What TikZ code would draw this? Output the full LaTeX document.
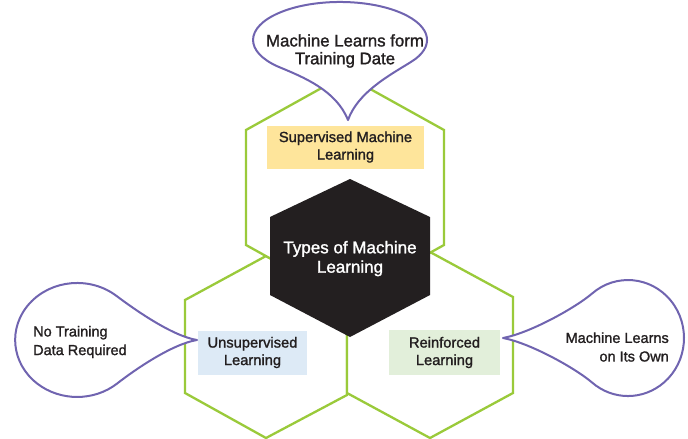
\documentclass[tikz,border=0pt]{standalone}
\usepackage{fontspec}
\setmainfont[FakeBold=1.4]{Liberation Sans}
\definecolor{hexgreen}{RGB}{154,202,58}
\definecolor{bubblepurple}{RGB}{112,100,176}
\definecolor{coredark}{RGB}{35,31,32}
\definecolor{darktext}{RGB}{35,31,32}
\definecolor{boxyellow}{RGB}{254,229,155}
\definecolor{boxblue}{RGB}{221,234,246}
\definecolor{boxgreen}{RGB}{226,239,218}
\begin{document}
\begin{tikzpicture}[x=1pt,y=-1pt,
  hexline/.style={draw=hexgreen,line width=2.3pt,line join=miter,fill=white},
  bubble/.style={draw=bubblepurple,line width=2pt,fill=white,line join=round},
  labelbox/.style={inner sep=0pt,align=center,text=darktext,
    font=\fontsize{14.7}{17.5}\selectfont},
  bubbletext/.style={inner sep=0pt,text=darktext,
    font=\fontsize{14.5}{18.6}\selectfont}]
\useasboundingbox (0,0) rectangle (688,439);

% green hexagons
\draw[hexline] (266,256) -- (185,300) -- (185,393) -- (266,438) -- (347,395) -- (347,300) -- cycle;
\draw[hexline] (430,252) -- (513,297) -- (513,393) -- (430,438) -- (347,393) -- (347,297) -- cycle;
\draw[hexline] (345,75) -- (444,130) -- (444,245) -- (345,300) -- (246,245) -- (246,130) -- cycle;

% dark core hexagon
\fill[coredark] (350,179) -- (430,217) -- (430,295) -- (350,337) -- (270,295) -- (270,217) -- cycle;
\node[inner sep=0pt,align=center,text=white,font=\fontsize{17}{19.4}\selectfont]
  (core) at (350,258.6) {Types of Machine\\Learning};

% coloured labels
\node[labelbox,fill=boxyellow,minimum width=157pt,minimum height=43pt]
  (sup) at (345.5,147) {Supervised Machine\\Learning};
\node[labelbox,fill=boxblue,minimum width=109pt,minimum height=44pt]
  (unsup) at (252.5,352.5) {Unsupervised\\Learning};
\node[labelbox,fill=boxgreen,minimum width=111pt,minimum height=45pt]
  (reinf) at (444.5,352.5) {Reinforced\\Learning};

% callouts
\draw[bubble] (348,120) .. controls (336,90) and (303,77) .. (278,66.6)
  arc[start angle=135.5,end angle=395.4,x radius=87,y radius=38]
  .. controls (390,75) and (358,92) .. (348,120) -- cycle;
\node[inner sep=0pt,align=center,text=darktext,font=\fontsize{16.8}{17.8}\selectfont]
  (topnote) at (345,51) {Machine Learns form\\Training Date};

\draw[bubble] (197,340) .. controls (172,336) and (134,309) .. (117,296.3)
  arc[start angle=-50,end angle=-310,x radius=62,y radius=57]
  .. controls (134,370.3) and (172,344) .. (197,340) -- cycle;
\node[bubbletext,align=left,anchor=west] (leftnote) at (33,342) {No Training\\Data Required};

\draw[bubble] (503,338) .. controls (530,333) and (575,308) .. (592,293.6)
  arc[start angle=-130,end angle=130,x radius=56,y radius=58]
  .. controls (575,368) and (530,343) .. (503,338) -- cycle;
\node[bubbletext,align=right,anchor=east] (rightnote) at (669,347) {Machine Learns\\on Its Own};
\end{tikzpicture}
\end{document}
